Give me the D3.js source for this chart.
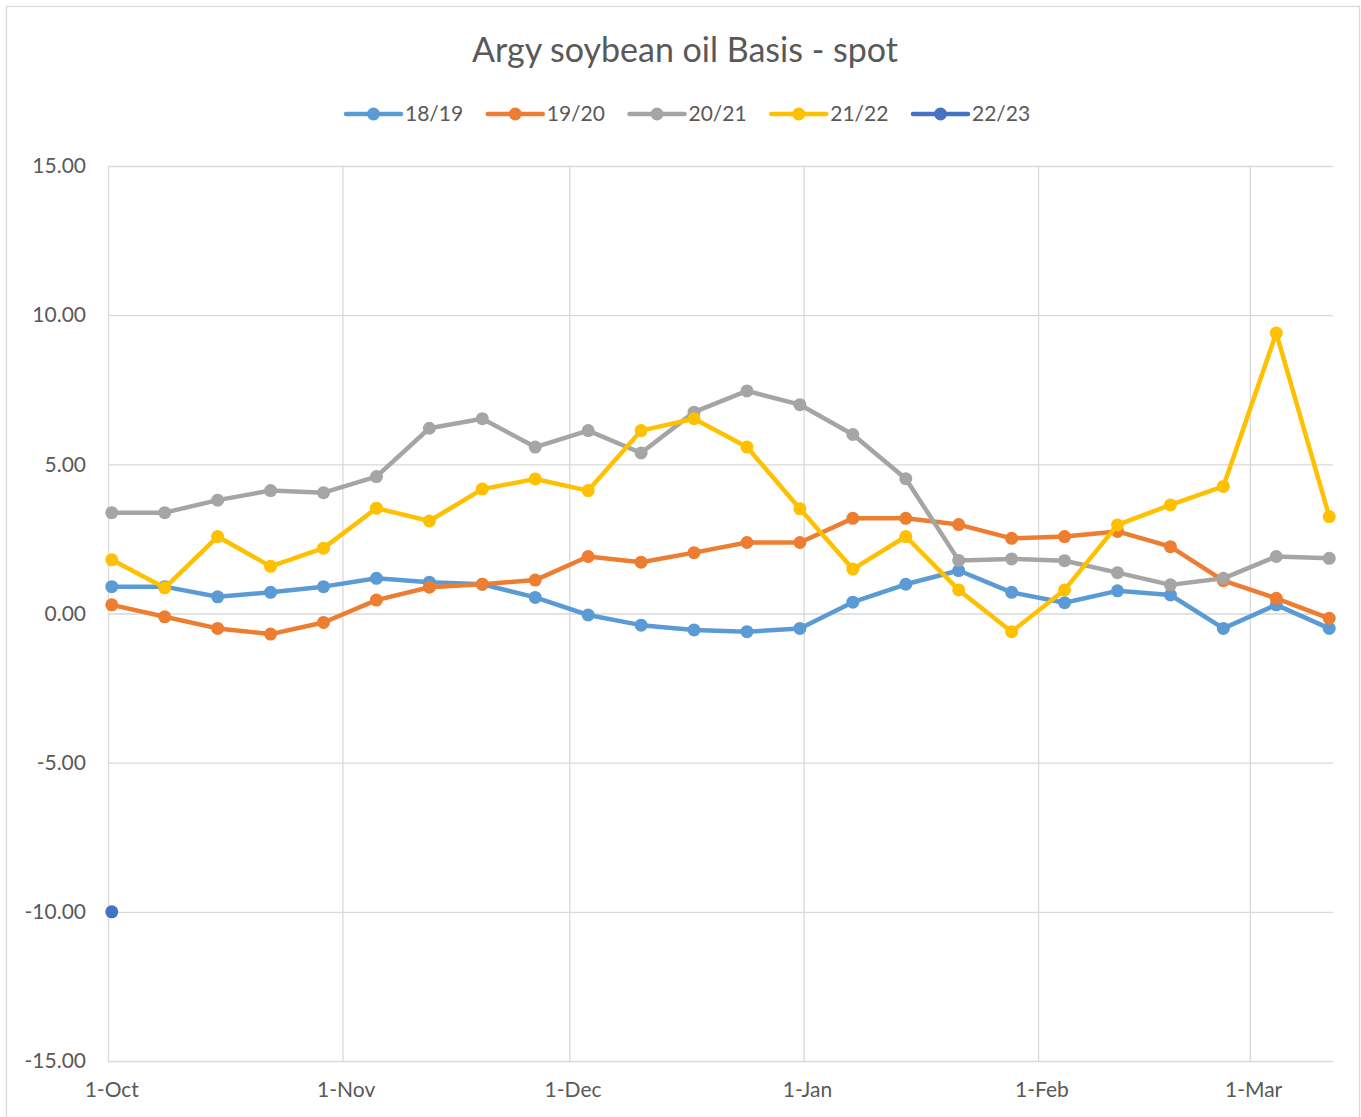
<!DOCTYPE html>
<html>
<head>
<meta charset="utf-8">
<script src="https://cdn.jsdelivr.net/npm/d3@7"></script>
<style>
  body { margin: 0; background: #fff; }
  svg text { font-family: Lato, "Open Sans", sans-serif; fill: #595959; }
</style>
</head>
<body>
<div id="chart"></div>
<script>
// weekly observation dates (season week starting 1-Oct)
var dates = ["2022-10-01", "2022-10-08", "2022-10-15", "2022-10-22", "2022-10-29",
    "2022-11-05", "2022-11-12", "2022-11-19", "2022-11-26", "2022-12-03",
    "2022-12-10", "2022-12-17", "2022-12-24", "2022-12-31", "2023-01-07",
    "2023-01-14", "2023-01-21", "2023-01-28", "2023-02-04", "2023-02-11",
    "2023-02-18", "2023-02-25", "2023-03-04", "2023-03-11"];

var s1819 = [0.90, 0.90, 0.56, 0.71, 0.90, 1.18, 1.05, 0.98, 0.54, -0.05, -0.39, -0.55,
    -0.61, -0.50, 0.38, 0.98, 1.44, 0.71, 0.36, 0.76, 0.62, -0.50, 0.29, -0.50];
var s1920 = [0.29, -0.11, -0.50, -0.69, -0.30, 0.45, 0.88, 0.98, 1.12, 1.91, 1.72, 2.04,
    2.38, 2.38, 3.19, 3.19, 2.98, 2.52, 2.58, 2.75, 2.24, 1.10, 0.51, -0.16];
var s2021 = [3.38, 3.38, 3.80, 4.12, 4.05, 4.59, 6.21, 6.53, 5.58, 6.13, 5.38, 6.75,
    7.46, 7.00, 6.00, 4.52, 1.78, 1.83, 1.77, 1.37, 0.96, 1.18, 1.91, 1.85];
var s2122 = [1.80, 0.86, 2.58, 1.58, 2.19, 3.53, 3.10, 4.17, 4.51, 4.12, 6.13, 6.53,
    5.58, 3.51, 1.49, 2.58, 0.79, -0.61, 0.79, 2.97, 3.64, 4.26, 9.40, 3.25];
var s2223 = [-10.00];

var seriesNames = ["18/19", "19/20", "20/21", "21/22", "22/23"];
var seriesColors = ["#5B9BD5", "#ED7D31", "#A5A5A5", "#FFC000", "#4472C4"];
var seriesValues = [s1819, s1920, s2021, s2122, s2223];

var yTicks = [15, 10, 5, 0, -5, -10, -15];
var xTickDates = ["2022-10-01", "2022-11-01", "2022-12-01", "2023-01-01", "2023-02-01", "2023-03-01"];

var width = 1361, height = 1117;
var margin = {left: 108, right: 28, top: 166, bottom: 56};

var parse = d3.utcParse("%Y-%m-%d");
var fmtX = d3.utcFormat("%-d-%b");

var svg = d3.select("#chart").append("svg")
    .attr("width", width)
    .attr("height", height);

// chart border
svg.append("rect")
    .attr("x", 6.5).attr("y", 6.5)
    .attr("width", 1353).attr("height", 1120)
    .style("fill", "none")
    .style("stroke", "#D9D9D9")
    .style("stroke-width", "1.3px");

var x = d3.scaleUtc()
    .domain([parse(dates[0]), d3.utcDay.offset(parse(dates[dates.length - 1]), 1)])
    .range([margin.left, width - margin.right]);

var y = d3.scaleLinear()
    .domain([-15, 15])
    .range([height - margin.bottom, margin.top]);

// points sit in the middle of their day (Excel "between tick marks")
function xMid(d) { return x(d3.utcHour.offset(d, 12)); }

// horizontal gridlines + y labels
var yAxis = d3.axisLeft(y)
    .tickValues(yTicks)
    .tickSize(-(width - margin.right - margin.left))
    .tickPadding(22)
    .tickFormat(function(d) { return d.toFixed(2); });

svg.append("g")
    .attr("transform", "translate(" + margin.left + ",0)")
    .call(yAxis)
    .call(function(g) {
        g.select(".domain").remove();
        g.selectAll("line").style("stroke", "#D9D9D9").style("stroke-width", "1.3px");
        g.selectAll("text").style("font-size", "21px").style("fill", "#595959");
    });

// vertical gridlines at month starts
var xGrid = d3.axisBottom(x)
    .tickValues(xTickDates.map(parse))
    .tickSize(-(height - margin.bottom - margin.top))
    .tickFormat("");

svg.append("g")
    .attr("transform", "translate(0," + (height - margin.bottom) + ")")
    .call(xGrid)
    .call(function(g) {
        g.select(".domain").remove();
        g.selectAll("line").style("stroke", "#D9D9D9").style("stroke-width", "1.3px");
    });

// x labels centred on their day
svg.append("g").selectAll("text")
    .data(xTickDates.map(parse))
    .join("text")
    .attr("x", xMid)
    .attr("y", height - margin.bottom + 36)
    .attr("text-anchor", "middle")
    .style("font-size", "21px")
    .text(fmtX);

// series
var line = d3.line()
    .x(function(d) { return xMid(d.date); })
    .y(function(d) { return y(d.value); });

seriesValues.forEach(function(vals, i) {
    var pts = vals.map(function(v, j) { return {date: parse(dates[j]), value: v}; });
    svg.append("path")
        .datum(pts)
        .attr("d", line)
        .style("fill", "none")
        .style("stroke", seriesColors[i])
        .style("stroke-width", "4.5px")
        .style("stroke-linejoin", "round")
        .style("stroke-linecap", "round");
    svg.append("g").selectAll("circle")
        .data(pts)
        .join("circle")
        .attr("cx", function(d) { return xMid(d.date); })
        .attr("cy", function(d) { return y(d.value); })
        .attr("r", 6.5)
        .style("fill", seriesColors[i]);
});

// title
svg.append("text")
    .attr("x", 685)
    .attr("y", 62)
    .attr("text-anchor", "middle")
    .style("font-size", "34px")
    .text("Argy soybean oil Basis - spot");

// legend
var legend = svg.append("g").selectAll("g")
    .data(seriesNames)
    .join("g")
    .attr("transform", function(d, i) { return "translate(" + (346 + i * 141.75) + ",114)"; });

legend.append("line")
    .attr("x1", 0).attr("x2", 55)
    .style("stroke", function(d, i) { return seriesColors[i]; })
    .style("stroke-width", "4.5px")
    .style("stroke-linecap", "round");

legend.append("circle")
    .attr("cx", 27.5)
    .attr("r", 6.5)
    .style("fill", function(d, i) { return seriesColors[i]; });

legend.append("text")
    .attr("x", 59)
    .attr("y", 7)
    .style("font-size", "21px")
    .text(function(d) { return d; });
</script>
</body>
</html>
